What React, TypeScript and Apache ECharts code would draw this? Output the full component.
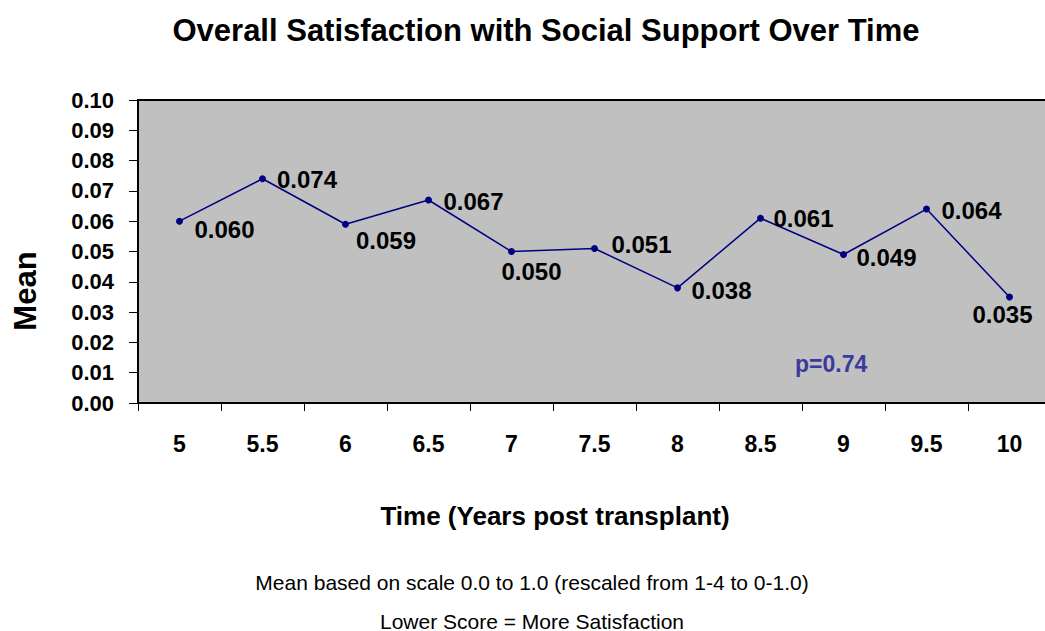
import React, { useEffect, useRef } from "react";
import * as echarts from "echarts";

const categories = ["5", "5.5", "6", "6.5", "7", "7.5", "8", "8.5", "9", "9.5", "10"];
const meanValues = [0.06, 0.074, 0.059, 0.067, 0.05, 0.051, 0.038, 0.061, 0.049, 0.064, 0.035];
const titleText = "Overall Satisfaction with Social Support Over Time";
const xAxisTitle = "Time (Years post transplant)";
const yAxisTitle = "Mean";
const pValueText = "p=0.74";
const footnotes = [
  "Mean based on scale 0.0 to 1.0 (rescaled from 1-4 to 0-1.0)",
  "Lower Score = More Satisfaction",
];

// label placement styling (offset from point, alignment)
const labelStyles: { off: [number, number]; align: string }[] = [
  { off: [11.5, 8], align: "left" },
  { off: [11, 1], align: "left" },
  { off: [7, 16], align: "left" },
  { off: [11.5, 2], align: "left" },
  { off: [16.5, 20], align: "center" },
  { off: [13.5, -4], align: "left" },
  { off: [10.5, 3], align: "left" },
  { off: [9.5, 0], align: "left" },
  { off: [9.5, 3], align: "left" },
  { off: [11.5, 1], align: "left" },
  { off: [-10.5, 17.5], align: "center" },
];

const FONT = "'Liberation Sans', Arial, Helvetica, sans-serif";

export default function App() {
  const ref = useRef<HTMLDivElement>(null);
  useEffect(() => {
    document.body.style.margin = "0";
    if (!ref.current) return;
    const chart = echarts.init(ref.current, undefined, { renderer: "svg" });
    const data = meanValues.map((v, i) => ({
      value: v,
      label: {
        show: true,
        position: "right",
        distance: 0,
        align: labelStyles[i].align,
        verticalAlign: "middle",
        offset: labelStyles[i].off,
      },
    }));
    chart.setOption({
      animation: false,
      backgroundColor: "#ffffff",
      grid: {
        left: 138,
        top: 100,
        width: 913,
        height: 303,
        show: true,
        backgroundColor: "#c0c0c0",
        borderColor: "#000",
        borderWidth: 2,
      },
      xAxis: {
        type: "category",
        data: categories,
        boundaryGap: true,
        axisLine: { lineStyle: { color: "#000", width: 2 } },
        axisTick: { show: true, length: 8, interval: 0, lineStyle: { color: "#000", width: 1 } },
        axisLabel: {
          interval: 0,
          margin: 29,
          color: "#000",
          fontSize: 23,
          fontWeight: "bold",
          fontFamily: FONT,
        },
        splitLine: { show: false },
      },
      yAxis: {
        type: "value",
        min: 0,
        max: 0.1,
        interval: 0.01,
        axisLine: { show: true, lineStyle: { color: "#000", width: 2 } },
        axisTick: { show: true, length: 9, lineStyle: { color: "#000", width: 1 } },
        axisLabel: {
          margin: 24,
          color: "#000",
          fontSize: 22,
          fontWeight: "bold",
          fontFamily: FONT,
          formatter: (v: number) => v.toFixed(2),
        },
        splitLine: { show: false },
      },
      series: [
        {
          type: "line",
          data,
          symbol: "circle",
          symbolSize: 7,
          itemStyle: { color: "#000080" },
          lineStyle: { color: "#000080", width: 1.5 },
          label: {
            show: true,
            color: "#000",
            fontSize: 24,
            fontWeight: "bold",
            fontFamily: FONT,
            formatter: (p: any) => Number(p.value).toFixed(3),
          },
        },
      ],
      graphic: [
        {
          type: "text",
          x: 546,
          y: 30,
          style: {
            text: titleText,
            fill: "#000",
            font: `bold 31px ${FONT}`,
            textAlign: "center",
            textVerticalAlign: "middle",
          },
        },
        {
          type: "text",
          x: 555,
          y: 516,
          style: {
            text: xAxisTitle,
            fill: "#000",
            font: `bold 26px ${FONT}`,
            textAlign: "center",
            textVerticalAlign: "middle",
          },
        },
        {
          type: "text",
          x: 25,
          y: 291,
          rotation: Math.PI / 2,
          style: {
            text: yAxisTitle,
            fill: "#000",
            font: `bold 31px ${FONT}`,
            textAlign: "center",
            textVerticalAlign: "middle",
          },
        },
        {
          type: "text",
          x: 795,
          y: 364,
          style: {
            text: pValueText,
            fill: "#3a3a9e",
            font: `bold 23px ${FONT}`,
            textAlign: "left",
            textVerticalAlign: "middle",
          },
        },
        {
          type: "text",
          x: 532,
          y: 582,
          style: {
            text: footnotes[0],
            fill: "#000",
            font: `21px ${FONT}`,
            textAlign: "center",
            textVerticalAlign: "middle",
          },
        },
        {
          type: "text",
          x: 532,
          y: 621,
          style: {
            text: footnotes[1],
            fill: "#000",
            font: `21px ${FONT}`,
            textAlign: "center",
            textVerticalAlign: "middle",
          },
        },
      ],
    });
    return () => chart.dispose();
  }, []);
  return (
    <div style={{ width: 1045, height: 631, overflow: "hidden", position: "relative" }}>
      <div ref={ref} style={{ width: 1055, height: 631 }} />
    </div>
  );
}
